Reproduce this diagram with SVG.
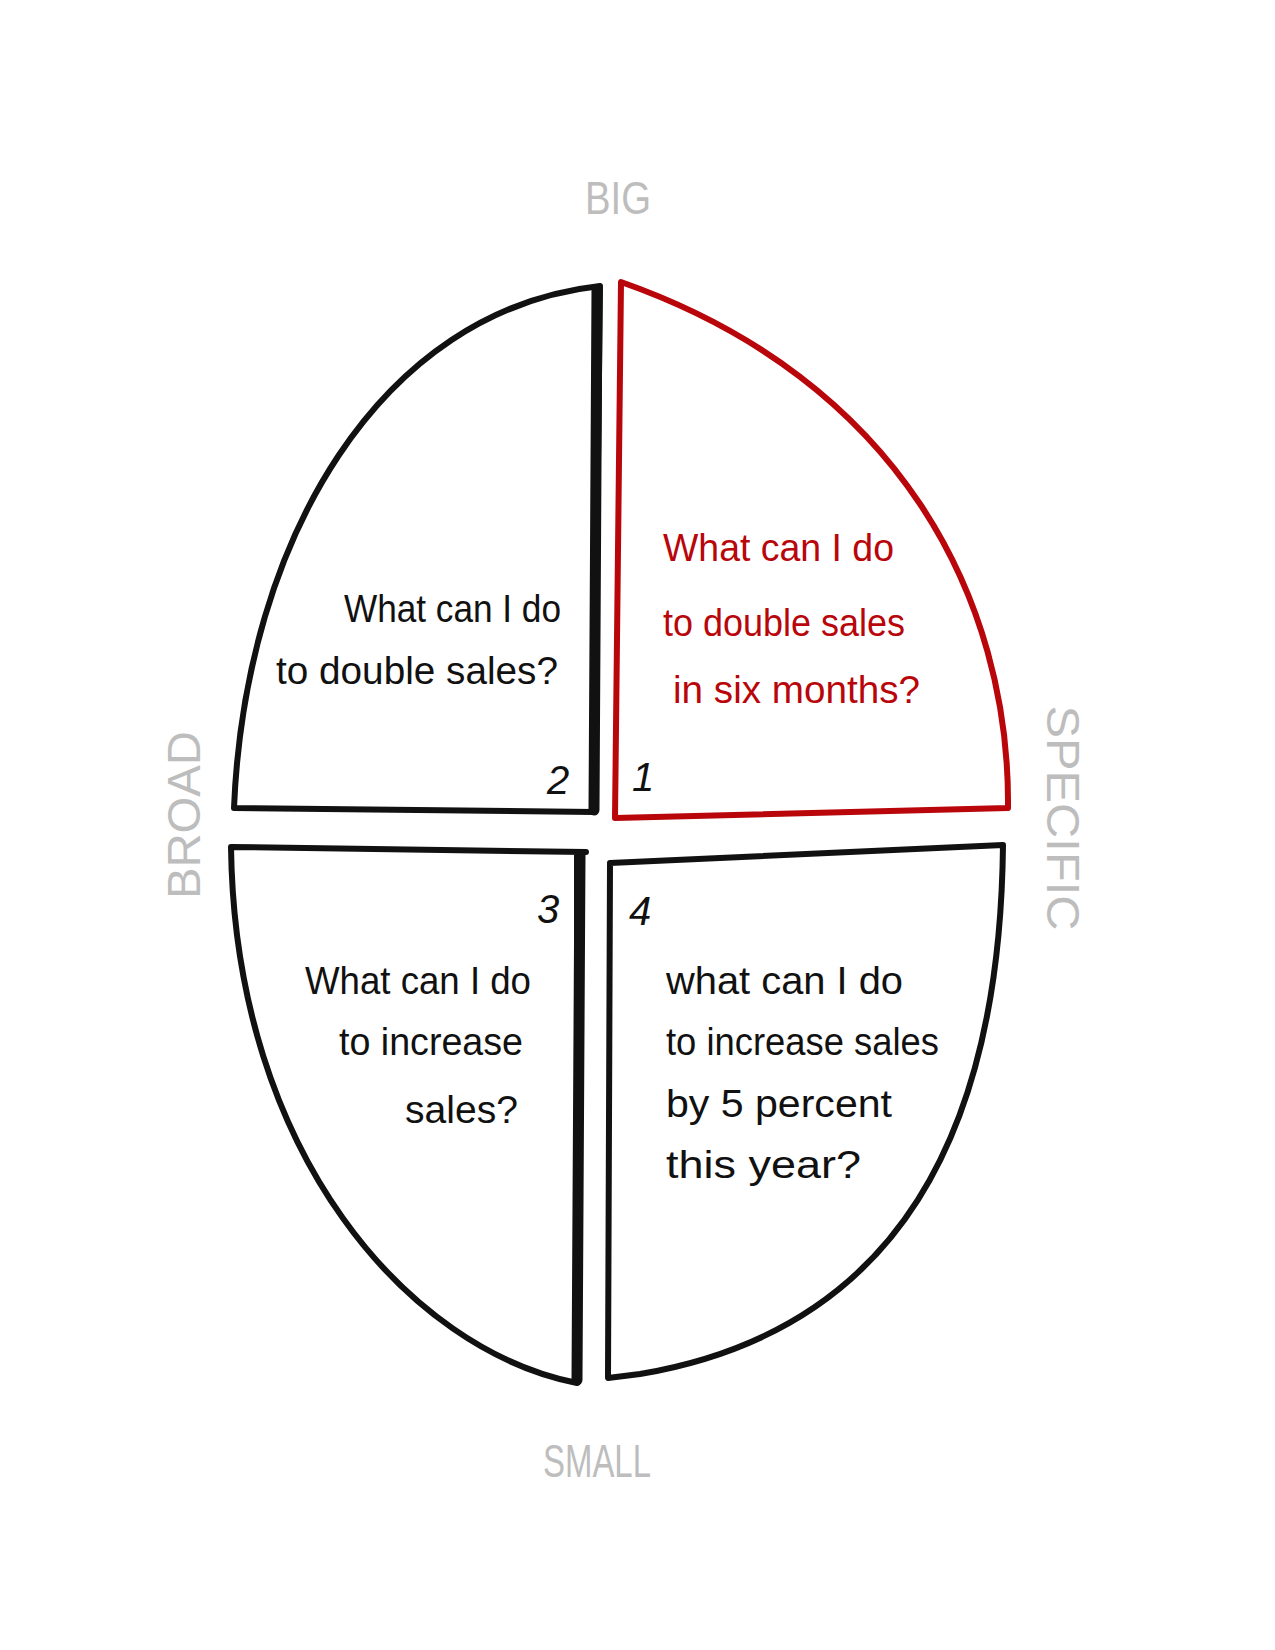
<svg xmlns="http://www.w3.org/2000/svg" width="1275" height="1650" viewBox="0 0 1275 1650">
<style>
.q{fill:none;stroke:#111;stroke-width:6;stroke-linejoin:round;stroke-linecap:round}
.red{stroke:#b8060b}
.thick{fill:none;stroke:#111;stroke-width:11;stroke-linecap:round}
.t{font-family:"Liberation Sans",Arial,sans-serif;font-size:38px;fill:#111}
.tr{fill:#b8060b}
.n{font-family:"Liberation Sans",Arial,sans-serif;font-size:40px;fill:#111;font-style:italic}
.axis{font-family:"Liberation Sans",Arial,sans-serif;font-size:46px;fill:#bdbdbd;text-anchor:middle}
</style>
<rect width="1275" height="1650" fill="#fff"/>
<g id="axes">
<text class="axis" x="618" y="214" textLength="66" lengthAdjust="spacingAndGlyphs">BIG</text>
<text class="axis" x="597" y="1477" textLength="108" lengthAdjust="spacingAndGlyphs">SMALL</text>
<text class="axis" transform="translate(200 815) rotate(-90)" x="0" y="0" textLength="168" lengthAdjust="spacingAndGlyphs">BROAD</text>
<text class="axis" transform="translate(1047 818) rotate(90)" x="0" y="0" textLength="225" lengthAdjust="spacingAndGlyphs">SPECIFIC</text>
</g>
<g id="q2">
<path class="q" d="M234 808 C245 540 380 310 600 286 L594 812 Z"/>
<line class="thick" x1="597" y1="290" x2="594" y2="810"/>
<text class="t" x="344" y="622" textLength="217" lengthAdjust="spacingAndGlyphs">What can I do</text>
<text class="t" x="276" y="684" textLength="282" lengthAdjust="spacingAndGlyphs">to double sales?</text>
<text class="n" x="547" y="794">2</text>
</g>
<g id="q1">
<path class="q red" d="M621 282 L615 818 L1008 808 C1010 600 900 380 621 282 Z"/>
<text class="t tr" x="663" y="561" textLength="231" lengthAdjust="spacingAndGlyphs">What can I do</text>
<text class="t tr" x="663" y="636" textLength="242" lengthAdjust="spacingAndGlyphs">to double sales</text>
<text class="t tr" x="673" y="703" textLength="247" lengthAdjust="spacingAndGlyphs">in six months?</text>
<text class="n" x="632" y="791">1</text>
</g>
<g id="q3">
<path class="q" d="M231 847 L586 852 L577 852 L577 1383 C410 1350 235 1155 231 847 Z"/>
<line class="thick" x1="580" y1="855" x2="577" y2="1380"/>
<text class="t" x="305" y="994" textLength="226" lengthAdjust="spacingAndGlyphs">What can I do</text>
<text class="t" x="339" y="1055" textLength="184" lengthAdjust="spacingAndGlyphs">to increase</text>
<text class="t" x="405" y="1123" textLength="113" lengthAdjust="spacingAndGlyphs">sales?</text>
<text class="n" x="537" y="923">3</text>
</g>
<g id="q4">
<path class="q" d="M610 863 L1003 845 C1000 1130 900 1330 640 1374 L608 1378 Z"/>
<text class="t" x="666" y="994" textLength="237" lengthAdjust="spacingAndGlyphs">what can I do</text>
<text class="t" x="666" y="1055" textLength="273" lengthAdjust="spacingAndGlyphs">to increase sales</text>
<text class="t" x="666" y="1117" textLength="226" lengthAdjust="spacingAndGlyphs">by 5 percent</text>
<text class="t" x="666" y="1178" textLength="195" lengthAdjust="spacingAndGlyphs">this year?</text>
<text class="n" x="629" y="925">4</text>
</g>
<g id="connectors"></g>
</svg>
